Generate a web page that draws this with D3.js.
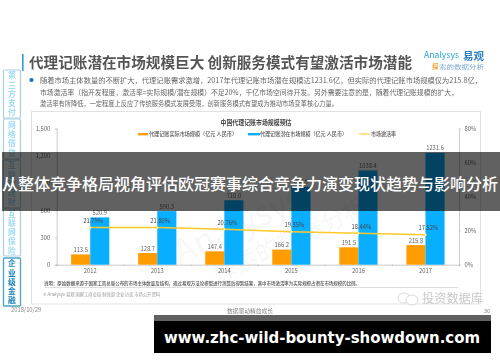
<!DOCTYPE html>
<html><head><meta charset="utf-8">
<script src="https://cdn.jsdelivr.net/npm/d3@7"></script>
<style>
html,body{margin:0;padding:0;background:#fff}
svg{display:block}
text{font-family:"Noto Sans CJK SC","Noto Sans",sans-serif}
.soft{filter:blur(.35px)}
</style></head><body>
<svg id="c" width="500" height="362"></svg>
<script>
const years=["2012","2013","2014","2015","2016","2017"];
const actual=[113.5,128.7,147.4,166.2,191.5,215.8];
const potential=[520.9,590.3,710.0,858.9,1038.4,1231.6];
const rate=[21.79,21.80,20.76,19.35,18.44,17.52];
const leftTicks=[0,300,600,900,1200,1500];
const rightTicks=[0,20,40,60,80];
const seriesNames=["代理记账实际市场规模（亿元 人民币）","代理记账潜在市场规模（亿元 人民币）","市场激活率"];
const tabs=["第三方支付","网络借贷","互联网理财","互联网保险","企业级金融"];
const headline="代理记账潜在市场规模巨大 创新服务模式有望激活市场潜能";
const bullets=["随着市场主体数量的不断扩大，代理记账需求激增，2017年代理记账市场潜在规模达1231.6亿，但实际的代理记账市场规模仅为215.8亿，",
"市场激活率（指开发程度，激活率=实际规模/潜在规模）不足20%，千亿市场空间待开发。另外需要注意的是，随着代理记账规模的扩大，",
"激活率有所降低，一定程度上反应了传统服务模式发展受限，创新服务模式有望成为推动市场变革核心力量。"];
const chartTitle="中国代理记账市场规模预估";
const note="说明：原始数据来源于国家工商总局公布的市场主体数量及结构，通过易观方法论模型进行测算后得到结果，其中市场激活率为实际规模占潜在市场规模的比例。";
const source="© Analysys 易观 国家工商总局 财政部 企业访谈 市场公开资料";
const banner="从整体竞争格局视角评估欧冠赛事综合竞争力演变现状趋势与影响分析";
const site="www.zhc-wild-bounty-showdown.com";

const C={orange:"#ff9d00",blue:"#0aaeff",yellow:"#ffc926",grey:"#666",axis:"#bcbcbc"};
const svg=d3.select("#c");
const page=svg.append("g").attr("class","soft");
const put=(g,t,x,y,size,fill,o={})=>{
  const n=g.append("text").attr("x",x).attr("y",y).attr("font-size",size).attr("fill",fill)
    .attr("text-anchor",o.anchor||"start").attr("font-weight",o.weight||400).text(t);
  if(o.len)n.attr("textLength",o.len).attr("lengthAdjust","spacingAndGlyphs");
  return n;};

// header
page.append("rect").attr("x",22).attr("y",54).attr("width",1.6).attr("height",17).attr("fill","#2a9fd6");
put(page,headline,29,67.5,14.4,"#555",{weight:700,len:383});
page.append("circle").attr("cx",31.5).attr("cy",80).attr("r",2.1).attr("fill","#0b6fc2");
bullets.forEach((b,i)=>put(page,b,40,83+i*11.6,7.4,"#666",{len:[442,418,298][i]}));

// logo
put(page,"Analysys",424,58,8.4,"#2a9fd6",{len:35});
put(page,"易观",463,59.5,10.5,"#2a7fc6",{weight:700,len:21});
put(page,"探",432,68.5,6.4,"#f0a030",{weight:700});
put(page,"索的数据分析",439,68.5,5.6,"#7aa9cf",{len:45});

// chart frame
page.append("rect").attr("x",31.5).attr("y",111.5).attr("width",449).attr("height",192.5).attr("fill","#fff").attr("stroke","#e2e2e2").attr("stroke-width",1);

// watermark
const wm=page.append("g").attr("transform","translate(270,232) rotate(-25)");
put(wm,"Analysys",-95,-8,34,"#f7f7f7");
put(wm,"探索的数据分析",-70,24,24,"#f7f7f7");

// scales
const x=d3.scaleBand().domain(years).range([56.7,459]);
const y=d3.scaleLinear().domain([0,1500]).range([264.7,128.5]);
const yR=d3.scaleLinear().domain([0,80]).range([264.7,128.5]);
const edge=d3.scaleLinear().domain([0,6]).range([56.7,459]);
const barW=19.1;

const styleAxis=g=>{g.selectAll("path,line").attr("stroke",C.axis).attr("stroke-width",.8);
  g.selectAll("text").attr("fill",C.grey).attr("font-size",5.8).attr("font-family","'Liberation Sans',sans-serif");};
page.append("g").attr("transform","translate(56.7,0)")
  .call(d3.axisLeft(y).tickValues(leftTicks).tickSize(1.5).tickPadding(5).tickFormat(d3.format(","))).call(styleAxis);
page.append("g").attr("transform","translate(459,0)")
  .call(d3.axisRight(yR).tickValues(rightTicks).tickSize(1.5).tickPadding(4).tickFormat(d=>d+"%")).call(styleAxis);
page.append("g").attr("transform","translate(0,264.7)")
  .call(d3.axisBottom(edge).ticks(6).tickSize(1.5).tickFormat("")).call(styleAxis);
page.append("g").attr("transform","translate(0,264.7)")
  .call(d3.axisBottom(x).tickSize(0).tickPadding(4.5)).call(g=>g.select("path").remove()).call(styleAxis);

// bars
const cx=d=>x(d)+x.bandwidth()/2;
page.selectAll(".a").data(years).join("rect").attr("x",d=>cx(d)-barW)
  .attr("width",barW).attr("y",(d,i)=>y(actual[i])).attr("height",(d,i)=>y(0)-y(actual[i])).attr("fill",C.orange);
page.selectAll(".p").data(years).join("rect").attr("x",d=>cx(d))
  .attr("width",barW).attr("y",(d,i)=>y(potential[i])).attr("height",(d,i)=>y(0)-y(potential[i])).attr("fill",C.blue);
years.forEach((d,i)=>{
  put(page,actual[i].toFixed(1),cx(d)-barW/2,y(actual[i])-2.5,5.8,C.grey,{anchor:"middle"}).attr("font-family","'Liberation Sans',sans-serif");
  put(page,potential[i].toFixed(1),cx(d)+barW/2,y(potential[i])-2.5,5.8,C.grey,{anchor:"middle"}).attr("font-family","'Liberation Sans',sans-serif");
});
// line
page.append("path").datum(rate).attr("fill","none").attr("stroke",C.yellow).attr("stroke-width",1.5)
  .attr("d",d3.line().x((d,i)=>cx(years[i])).y(d=>yR(d)));
page.selectAll(".m").data(rate).join("circle").attr("cx",(d,i)=>cx(years[i])).attr("cy",d=>yR(d)).attr("r",1.1)
  .attr("fill","#fff").attr("stroke",C.yellow).attr("stroke-width",.5);
rate.forEach((r,i)=>put(page,r.toFixed(2)+"%",cx(years[i])+3,yR(r)-4.5,5.8,"#444",{anchor:"middle"}).attr("font-family","'Liberation Sans',sans-serif"));

// chart title and legend
put(page,chartTitle,256,125,7.3,"#444",{weight:700,anchor:"middle",len:71});
const lg=page.append("g");
lg.append("rect").attr("x",138).attr("y",133).attr("width",10).attr("height",2.4).attr("fill",C.orange);
put(lg,seriesNames[0],149,136,5.2,"#555",{len:88,weight:500});
lg.append("rect").attr("x",248).attr("y",133).attr("width",12).attr("height",2.4).attr("fill",C.blue);
put(lg,seriesNames[1],260,136,5.2,"#555",{len:87,weight:500});
lg.append("line").attr("x1",359).attr("x2",370).attr("y1",134).attr("y2",134).attr("stroke",C.yellow).attr("stroke-width",1);
lg.append("circle").attr("cx",364.5).attr("cy",134).attr("r",1.1).attr("fill","#fff").attr("stroke",C.yellow).attr("stroke-width",.5);
put(lg,seriesNames[2],371,136,5.2,"#555",{len:25,weight:500});

// notes
put(page,note,44,284.5,5,"#555",{len:316,weight:500});
page.append("line").attr("x1",45).attr("x2",458).attr("y1",287.5).attr("y2",287.5).attr("stroke","#ddd").attr("stroke-width",1);
put(page,source,43,296,4.6,"#999",{len:117});

// wechat watermark
page.append("ellipse").attr("cx",404).attr("cy",298).attr("rx",6).attr("ry",5).attr("fill","#fff").attr("stroke","#d0d0d0").attr("stroke-width",.8);
page.append("ellipse").attr("cx",412).attr("cy",300).attr("rx",6).attr("ry",5).attr("fill","#fff").attr("stroke","#d0d0d0").attr("stroke-width",.8);
put(page,"投资数据库",422,303,12,"#c8c8c8",{len:61});

// side tabs
const tabY=[[70,118],[119,159],[160,208],[209,256],[258,306]];
tabs.forEach((t,i)=>{
  const on=i===4,[a,b]=tabY[i],mid=(a+b)/2;
  page.append("rect").attr("x",3.5).attr("y",a).attr("width",17).attr("height",b-a).attr("rx",1)
    .attr("fill","#fff").attr("stroke",on?"#4fa3c4":"#a9cfdd").attr("stroke-width",on?1.4:1.2);
  t.split("").forEach((ch,k)=>put(page,ch,12,mid+(k-(t.length-1)/2)*9.2+2.7,7.8,on?"#1b86b8":"#9fdcf2",{anchor:"middle",weight:700}));
});

// footer
put(page,"2018/10/29",11,312,5.8,"#888");
put(page,"数据驱动精益成长",227,313,5.6,"#888",{len:46});
put(page,"36",484,313,5.6,"#888");

// overlay banner
svg.append("rect").attr("x",2).attr("y",152).attr("width",498).attr("height",59).attr("fill","#000").attr("fill-opacity",.62);
put(svg,banner,2,189.5,16,"#fff",{weight:500,len:496});
svg.append("rect").attr("x",154).attr("y",315).attr("width",337).attr("height",6).attr("fill","#000").attr("fill-opacity",.62);
svg.append("rect").attr("x",154).attr("y",321).attr("width",337).attr("height",32).attr("fill","#000");
put(svg,site,164,343,15.6,"#fff",{weight:700,len:316}).style("font-family","'DejaVu Sans',sans-serif");
</script>
</body></html>
